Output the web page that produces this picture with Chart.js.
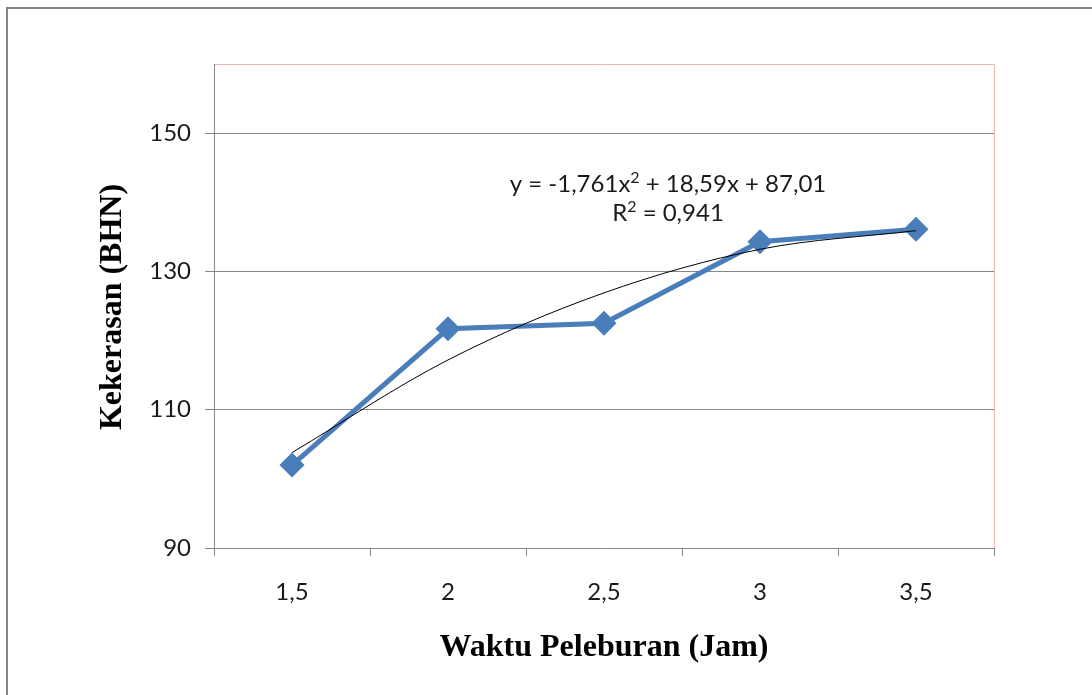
<!DOCTYPE html>
<html>
<head>
<meta charset="utf-8">
<script src="https://cdn.jsdelivr.net/npm/chart.js@4/dist/chart.umd.min.js"></script>
<style>
  html, body { margin: 0; padding: 0; background: #ffffff; }
  #wrap { width: 1092px; height: 695px; position: relative; }
</style>
</head>
<body>
<div id="wrap"><canvas id="c" width="1092" height="695"></canvas></div>
<script>
const categories = ['1,5', '2', '2,5', '3', '3,5'];
const hardness = [102.0, 121.7, 122.5, 134.3, 136.1];
const trendValues = [103.8, 117.2, 126.9, 133.2, 135.9];
const yTicks = [90, 110, 130, 150];
const xTitle = 'Waktu Peleburan (Jam)';
const yTitle = 'Kekerasan (BHN)';
// equation segments: [text, isSuperscript]
const eqLine1 = [['y = -1,761x', false], ['2', true], [' + 18,59x + 87,01', false]];
const eqLine2 = [['R', false], ['2', true], [' = 0,941', false]];

function drawRich(ctx, parts, cx, cy, size, family) {
  const fontN = size + 'px ' + family;
  const fontS = Math.round(size * 0.68) + 'px ' + family;
  let total = 0;
  parts.forEach(p => { ctx.font = p[1] ? fontS : fontN; total += ctx.measureText(p[0]).width; });
  let x = cx - total / 2;
  ctx.textAlign = 'left';
  ctx.textBaseline = 'alphabetic';
  const base = cy + size * 0.36;
  parts.forEach(p => {
    ctx.font = p[1] ? fontS : fontN;
    ctx.fillText(p[0], x, p[1] ? base - size * 0.36 : base);
    x += ctx.measureText(p[0]).width;
  });
}

const decor = {
  id: 'decor',
  beforeDraw(chart) {
    const ctx = chart.ctx;
    const a = chart.chartArea;
    ctx.save();
    ctx.fillStyle = '#ffffff';
    ctx.fillRect(0, 0, chart.width, chart.height);
    ctx.fillStyle = '#858585';
    ctx.fillRect(6, 7, 2, chart.height - 7);
    ctx.fillRect(6, 7, chart.width - 6, 2);
    ctx.strokeStyle = '#F0B4B4';
    ctx.lineWidth = 1;
    ctx.beginPath();
    ctx.moveTo(a.left, a.top + 0.5);
    ctx.lineTo(a.right + 0.5, a.top + 0.5);
    ctx.lineTo(a.right + 0.5, a.bottom);
    ctx.stroke();
    ctx.restore();
  },
  afterDraw(chart) {
    const ctx = chart.ctx;
    ctx.save();
    ctx.fillStyle = '#000000';
    ctx.textAlign = 'center';
    ctx.textBaseline = 'middle';
    ctx.font = 'bold 32px "Liberation Serif"';
    ctx.fillText(xTitle, 604, 648);
    ctx.translate(113, 307);
    ctx.rotate(-Math.PI / 2);
    ctx.fillText(yTitle, 0, 0);
    ctx.restore();
    ctx.save();
    ctx.fillStyle = '#1a1a1a';
    drawRich(ctx, eqLine1, 668, 183, 24, 'Lato');
    drawRich(ctx, eqLine2, 668, 212, 24, 'Lato');
    ctx.restore();
  }
};

new Chart(document.getElementById('c'), {
  type: 'line',
  data: {
    labels: categories,
    datasets: [
      {
        label: 'Kekerasan',
        data: hardness,
        borderColor: '#4A7EBB',
        backgroundColor: '#4A7EBB',
        borderWidth: 5,
        pointStyle: 'rectRot',
        pointRadius: 9,
        pointHoverRadius: 9,
        pointBorderWidth: 5,
        tension: 0,
        order: 1
      },
      {
        label: 'Trend',
        data: trendValues,
        borderColor: '#000000',
        borderWidth: 1,
        pointRadius: 0,
        cubicInterpolationMode: 'monotone',
        order: 0
      }
    ]
  },
  options: {
    responsive: false,
    animation: false,
    events: [],
    layout: { padding: { left: 0, top: 64, right: 98, bottom: 0 } },
    plugins: { legend: { display: false }, tooltip: { enabled: false } },
    scales: {
      x: {
        offset: true,
        grid: {
          offset: true,
          drawOnChartArea: false,
          drawTicks: true,
          tickLength: 8,
          color: '#868686'
        },
        border: { color: '#868686', width: 1 },
        ticks: {
          color: '#1a1a1a',
          font: { family: 'Lato', size: 24 },
          padding: 22,
          maxRotation: 0
        },
        afterFit(scale) { scale.height = 147; }
      },
      y: {
        min: 90,
        max: 160,
        afterBuildTicks(scale) {
          scale.ticks = yTicks.map(v => ({ value: v }));
        },
        grid: {
          color: '#868686',
          drawTicks: true,
          tickLength: 9
        },
        border: { color: '#868686', width: 1 },
        ticks: {
          color: '#1a1a1a',
          font: { family: 'Lato', size: 24 },
          padding: 14
        },
        afterFit(scale) { scale.width = 214; }
      }
    }
  },
  plugins: [decor]
});
</script>
</body>
</html>
